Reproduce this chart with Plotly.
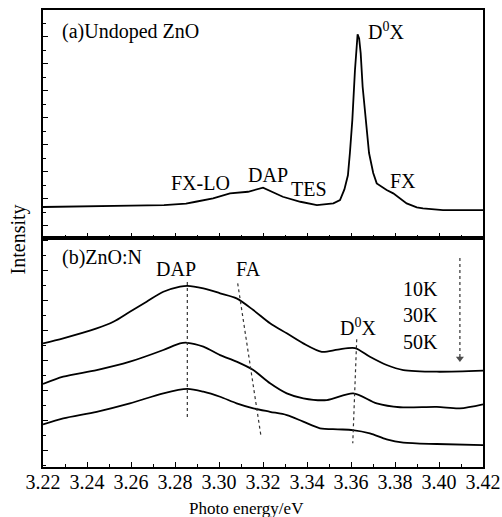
import plotly.graph_objects as go

# ---------------- data ----------------
# (a) Undoped ZnO
top_E = [3.220, 3.240, 3.260, 3.275, 3.285, 3.2894, 3.2973, 3.305, 3.3132, 3.320,
         3.329, 3.337, 3.3445, 3.352, 3.355, 3.357, 3.3586, 3.3595, 3.3606, 3.3618,
         3.3625, 3.3630, 3.3637, 3.3644, 3.3653, 3.3667, 3.3682, 3.3701, 3.3717,
         3.3762, 3.3792, 3.3853, 3.3899, 3.3927, 3.4018, 3.420]
top_I = [1.40, 1.43, 1.50, 1.54, 1.65, 1.79, 2.04, 2.41, 2.53, 2.83,
         2.16, 1.79, 1.54, 1.67, 1.92, 2.70, 3.75, 5.40, 7.84, 11.54,
         13.6, 14.2, 13.9, 12.8, 10.29, 7.84, 5.40, 3.92, 3.15,
         2.66, 2.41, 1.67, 1.37, 1.30, 1.17, 1.17]

# (b) ZnO:N at 10 K, 30 K, 50 K
E10 = [3.220, 3.2292, 3.2444, 3.252, 3.2595, 3.2671, 3.2747, 3.2823, 3.2856, 3.2929,
       3.3005, 3.308, 3.3156, 3.3232, 3.3308, 3.3383, 3.3467, 3.3540, 3.3618, 3.3686,
       3.3762, 3.3838, 3.399, 3.420]
I10 = [7.11, 7.45, 8.11, 8.55, 9.22, 9.89, 10.55, 10.89, 10.95, 10.78,
       10.45, 10.11, 9.33, 8.45, 7.78, 7.11, 6.55, 6.70, 6.80, 6.22,
       5.67, 5.33, 5.22, 5.29]

E30 = [3.220, 3.2292, 3.2444, 3.2595, 3.2747, 3.2823, 3.2856, 3.2929, 3.3005, 3.308,
       3.3156, 3.3232, 3.3308, 3.3383, 3.349, 3.361, 3.3717, 3.3823, 3.399, 3.4095, 3.420]
I30 = [4.40, 4.89, 5.33, 5.89, 6.67, 7.11, 7.15, 6.89, 6.33, 5.89,
       5.33, 4.45, 3.78, 3.45, 3.33, 3.78, 3.11, 2.85, 2.87, 2.78, 3.05]

E50 = [3.220, 3.2292, 3.2444, 3.2595, 3.2747, 3.2856, 3.2929, 3.3005, 3.308, 3.3156,
       3.3232, 3.3308, 3.3383, 3.3459, 3.3540, 3.3608, 3.3686, 3.3762, 3.3838, 3.399, 3.420]
I50 = [1.71, 2.11, 2.55, 3.11, 3.78, 4.07, 3.89, 3.55, 3.11, 2.78,
       2.55, 2.33, 1.89, 1.45, 1.38, 1.33, 1.11, 0.71, 0.49, 0.40, 0.33]

# dotted guide lines in panel (b): ([x0, x1], [y0, y1])
guide_DAP = ([3.2856, 3.2856], [11.20, 2.20])
guide_FA = ([3.3085, 3.3190], [11.11, 1.00])
guide_D0X = ([3.3626, 3.3608], [7.38, 0.45])
arrow_T = ([3.4095, 3.4095], [12.80, 6.10])

x_ticks = [3.22, 3.24, 3.26, 3.28, 3.30, 3.32, 3.34, 3.36, 3.38, 3.40, 3.42]
x_ticktext = ["%.2f" % v for v in x_ticks]

# ---------------- figure ----------------
FONT = "Liberation Serif"
fig = go.Figure()

fig.add_trace(go.Scatter(x=top_E, y=top_I, mode="lines", xaxis="x2", yaxis="y2",
                         line=dict(color="black", width=1.8), showlegend=False))
for E, I in ((E10, I10), (E30, I30), (E50, I50)):
    fig.add_trace(go.Scatter(x=E, y=I, mode="lines", xaxis="x", yaxis="y",
                             line=dict(color="black", width=1.8, shape="spline", smoothing=0.8),
                             showlegend=False))
for gx, gy in (guide_DAP, guide_FA, guide_D0X):
    fig.add_trace(go.Scatter(x=gx, y=gy, mode="lines", xaxis="x", yaxis="y",
                             line=dict(color="#333333", width=1.2, dash="dot"),
                             showlegend=False))
# temperature arrow: dotted shaft with a small downward head
fig.add_trace(go.Scatter(x=arrow_T[0], y=arrow_T[1], mode="lines+markers", xaxis="x", yaxis="y",
                         line=dict(color="#333333", width=1.2, dash="dot"),
                         marker=dict(symbol="triangle-down", size=[0, 7], color="black",
                                     line=dict(width=0)),
                         showlegend=False))

axis_common = dict(showline=True, mirror=True, linecolor="black", linewidth=1.5,
                   showgrid=False, zeroline=False, ticks="inside", tickcolor="black",
                   tickwidth=1.2, automargin=False)

fig.update_layout(
    width=502, height=517, autosize=False,
    margin=dict(l=43, r=19, t=10, b=50, pad=0),
    paper_bgcolor="white", plot_bgcolor="white",
    font=dict(family=FONT, size=20, color="black"),
    xaxis=dict(**axis_common, domain=[0, 1], anchor="y", range=[3.22, 3.42],
               tickvals=x_ticks, ticktext=x_ticktext, ticklen=5,
               minor=dict(ticks="inside", ticklen=3, dtick=0.01, tick0=3.22,
                          tickcolor="black", tickwidth=1.2),
               tickfont=dict(family=FONT, size=20), ticklabelstandoff=-4),
    yaxis=dict(**axis_common, domain=[0, 0.501], anchor="x", range=[-1.133, 14.133],
               showticklabels=False, tick0=0, dtick=2, ticklen=5,
               minor=dict(ticks="inside", ticklen=3, dtick=1, tick0=0,
                          tickcolor="black", tickwidth=1.2)),
    xaxis2=dict(**axis_common, domain=[0, 1], anchor="y2", range=[3.22, 3.42],
                matches="x", showticklabels=False, tickvals=x_ticks, ticklen=5,
                minor=dict(ticks="inside", ticklen=3, dtick=0.01, tick0=3.22,
                           tickcolor="black", tickwidth=1.2)),
    yaxis2=dict(**axis_common, domain=[0.501, 1], anchor="x2", range=[-0.9, 16.0],
                showticklabels=False, tick0=0, dtick=2, ticklen=5,
                minor=dict(ticks="inside", ticklen=3, dtick=1, tick0=1,
                           tickcolor="black", tickwidth=1.2)),
)

def txt(text, x, y, xanchor="center", size=20, angle=0):
    fig.add_annotation(text=text, x=x, y=y, xref="paper", yref="paper",
                       xanchor=xanchor, yanchor="middle", showarrow=False,
                       textangle=angle, font=dict(family=FONT, size=size, color="black"))

# panel (a)
txt("(a)Undoped ZnO", 0.0386, 0.954, xanchor="left")
txt("FX-LO", 0.357, 0.621)
txt("DAP", 0.511, 0.639)
txt("TES", 0.6045, 0.609)
txt("D<sup>0</sup>X", 0.7795, 0.954)
txt("FX", 0.818, 0.626)
# panel (b)
txt("(b)ZnO:N", 0.0386, 0.4595, xanchor="left")
txt("DAP", 0.302, 0.433)
txt("FA", 0.468, 0.433)
txt("D<sup>0</sup>X", 0.716, 0.306)
txt("10K", 0.859, 0.3895)
txt("30K", 0.859, 0.3326)
txt("50K", 0.859, 0.2735)
# axis titles
txt("Intensity", -0.0557, 0.499, size=20, angle=-90)
txt("Photo energy/eV", 0.4636, -0.0919, size=17)

fig.write_html("out.html", config={"displayModeBar": False},
               post_script="document.body.style.margin='0';document.body.style.overflow='hidden';")
